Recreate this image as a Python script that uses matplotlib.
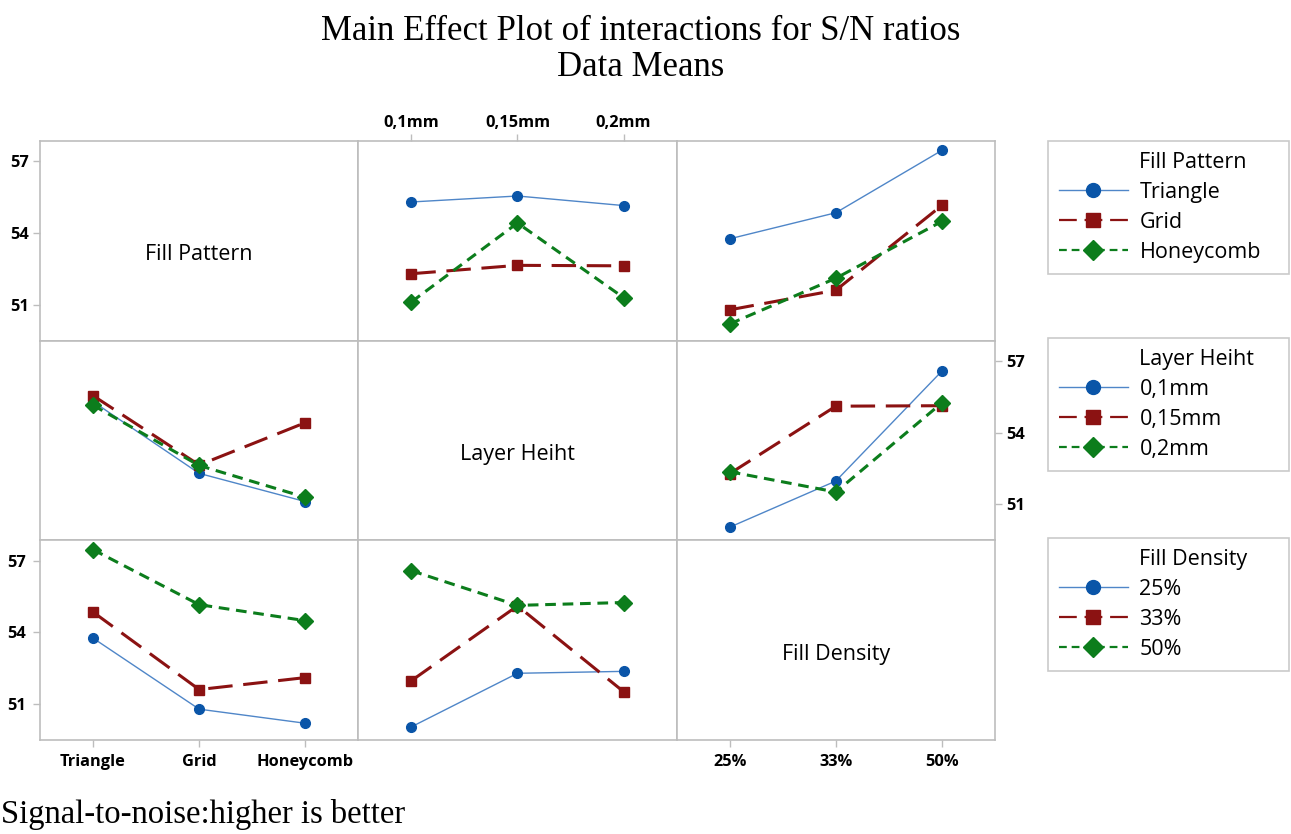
import matplotlib
matplotlib.use("Agg")
from matplotlib import pyplot as plt
from matplotlib.lines import Line2D
import numpy as np

factors = ["Fill Pattern", "Layer Heiht", "Fill Density"]
pattern_levels = ["Triangle", "Grid", "Honeycomb"]
height_levels = ["0,1mm", "0,15mm", "0,2mm"]
density_levels = ["25%", "33%", "50%"]
levels = [pattern_levels, height_levels, density_levels]

# S/N means, rows = first factor levels, cols = second factor levels
pattern_by_height = [[55.30, 55.55, 55.15],
                     [52.30, 52.65, 52.63],
                     [51.12, 54.42, 51.30]]
pattern_by_density = [[53.76, 54.85, 57.46],
                      [50.79, 51.61, 55.16],
                      [50.20, 52.11, 54.49]]
height_by_density = [[50.05, 51.98, 56.58],
                     [52.29, 55.11, 55.13],
                     [52.37, 51.52, 55.25]]

tables = {(0, 1): np.array(pattern_by_height),
          (0, 2): np.array(pattern_by_density),
          (1, 2): np.array(height_by_density)}

colors = ["#0a55a8", "#8b1212", "#0c7d1c"]
line_cols = ["#4f86c8", "#8b1212", "#0c7d1c"]
markers = ["o", "s", "D"]
styles = [dict(ls="-", lw=1.0, ms=7),
          dict(ls=(0, (8, 3.5)), lw=2.2, ms=7.5),
          dict(ls=(0, (3.5, 2.2)), lw=2.2, ms=8.5)]
gray = "#bdbdbd"

fig = plt.figure(figsize=(12.91, 8.34), dpi=100)
W, H = 1291, 834
x0, x1, y0, y1 = 40, 995, 141, 740
axes = fig.subplots(3, 3, gridspec_kw=dict(left=x0 / W, right=x1 / W,
                                           top=1 - y0 / H, bottom=1 - y1 / H,
                                           wspace=0, hspace=0))

tick_font = dict(family="Open Sans", weight="bold", size=11.8)

for i in range(3):
    for j in range(3):
        ax = axes[i, j]
        ax.set_xlim(0.5, 3.5)
        ax.set_ylim(49.5, 57.85)
        for s in ax.spines.values():
            s.set_color(gray)
            s.set_linewidth(1.2)
        ax.tick_params(length=5, color=gray, width=1, pad=3,
                       left=False, bottom=False, labelleft=False, labelbottom=False)
        ax.set_xticks([1, 2, 3])
        ax.set_yticks([51, 54, 57])
        if i == j:
            ax.text(0.5, 0.43, factors[i], transform=ax.transAxes, ha="center",
                    va="center", family="Open Sans", fontsize=15.5)
            continue
        if (i, j) in tables:
            data = tables[(i, j)]
        else:
            data = tables[(j, i)].T
        x = np.arange(1, 4)
        for k in range(3):
            st = styles[k]
            ax.plot(x, data[k], color=line_cols[k], ls=st["ls"], lw=st["lw"],
                    marker=markers[k], ms=st["ms"],
                    mfc=colors[k], mec=colors[k], zorder=3)

# ticks
for ax in (axes[0, 0], axes[2, 0]):
    ax.tick_params(left=True, labelleft=True)
    ax.set_yticklabels(["51", "54", "57"], **tick_font)
axes[1, 2].yaxis.tick_right()
axes[1, 2].tick_params(right=True, labelright=True, left=False, labelleft=False)
axes[1, 2].set_yticklabels(["51", "54", "57"], **tick_font)
axes[0, 1].xaxis.tick_top()
axes[0, 1].tick_params(top=True, labeltop=True, pad=2)
axes[0, 1].set_xticklabels(height_levels, **tick_font)
axes[2, 0].tick_params(bottom=True, labelbottom=True, pad=5)
axes[2, 0].set_xticklabels(pattern_levels, **tick_font)
axes[2, 2].tick_params(bottom=True, labelbottom=True, pad=5)
axes[2, 2].set_xticklabels(density_levels, **tick_font)

# legends (title drawn as a blank first entry so it lines up with the labels)
leg_tops = [141, 338, 538]
for i in range(3):
    handles = [Line2D([], [], alpha=0)]
    for k in range(3):
        st = styles[k]
        handles.append(Line2D([], [], color=line_cols[k], ls=st["ls"], lw=1.6 if k else 1.0,
                              marker=markers[k], ms=10, mfc=colors[k], mec=colors[k]))
    leg = fig.legend(handles, [factors[i]] + levels[i],
                     loc="upper left", bbox_to_anchor=(1048 / W, 1 - leg_tops[i] / H, 241 / W, 0),
                     mode="expand", frameon=True, fancybox=False,
                     edgecolor=gray, prop=dict(family="Open Sans", size=15.5),
                     handlelength=3.2, handletextpad=0.55, labelspacing=0.42,
                     borderpad=0.5, borderaxespad=0)
    leg.get_frame().set_linewidth(1.2)

fig.text(0.4965, 1 - 31 / H, "Main Effect Plot of interactions for S/N ratios",
         ha="center", va="center", family="Liberation Serif", fontsize=25)
fig.text(0.4965, 1 - 68 / H, "Data Means", ha="center", va="center",
         family="Liberation Serif", fontsize=25)
fig.text(0.001, 1 - 814 / H, "Signal-to-noise:higher is better", ha="left", va="center",
         family="Liberation Serif", fontsize=23.5)

fig.savefig("out.png", dpi=100)
